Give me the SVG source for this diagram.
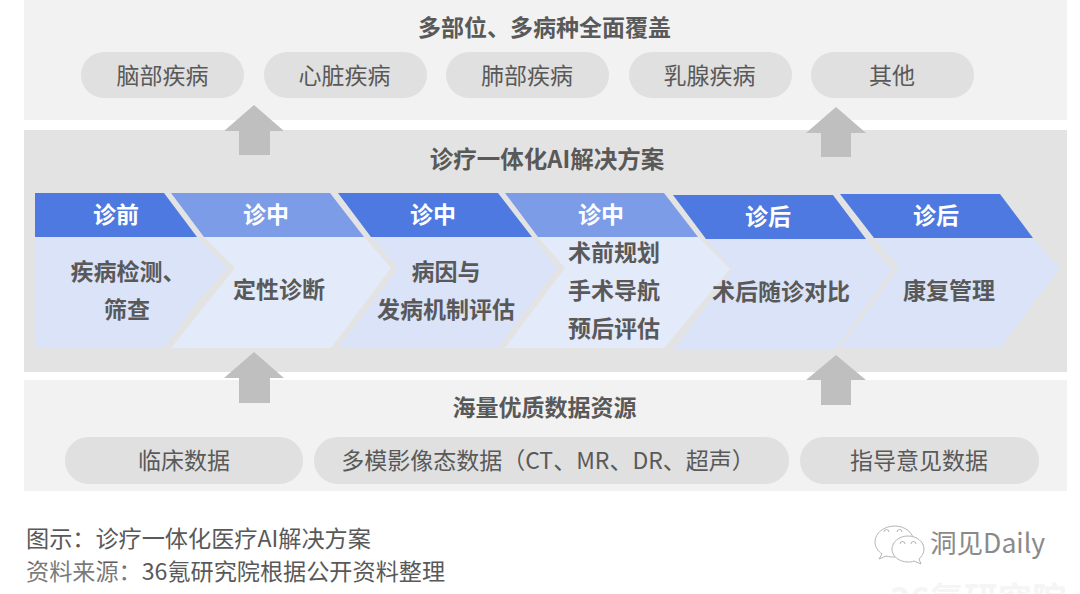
<svg xmlns="http://www.w3.org/2000/svg" width="1080" height="594" viewBox="0 0 1080 594">
<style>
text{font-family:"Noto Sans CJK SC","Noto Sans",sans-serif;text-anchor:middle}
.panel-l{fill:#f2f2f2}
.panel-m{fill:#e3e3e3}
.pill{fill:#e0e0e0}
.pt{font-size:23px;fill:#595959}
.h{font-size:23px;font-weight:700;fill:#595959}
.hd{font-size:23px;font-weight:700;fill:#fff}
.dk{fill:#4e79e0}
.lt{fill:#7c9ce8}
.b1{fill:#dae3f8}
.b2{fill:#e3eafa}
.ar{fill:#bfbfbf}
.cap{font-size:23.15px;fill:#595959;text-anchor:start}
</style>
<rect width="1080" height="594" fill="#fff"/>
<g id="panels">
<rect class="panel-l" x="24" y="0" width="1043" height="120"/>
<rect class="panel-m" x="24" y="130" width="1043" height="242"/>
<rect class="panel-l" x="24" y="380" width="1043" height="111"/>
</g>
<g id="connectors">
<polygon class="ar" points="254,105 284,131 270,131 270,155 239,155 239,131 224,131"/>
<polygon class="ar" points="836,107 866,133 851,133 851,157 821,157 821,133 806,133"/>
<polygon class="ar" points="254,352 284,378 270,378 270,403 239,403 239,378 224,378"/>
<polygon class="ar" points="836,355 866,380 851,380 851,405 821,405 821,380 806,380"/>
</g>
<text class="h" x="544.500" y="36">多部位、多病种全面覆盖</text>
<g id="top-1"><rect class="pill" x="81" y="52" width="163" height="46" rx="23"/><text class="pt" x="162.500" y="84">脑部疾病</text></g>
<g id="top-2"><rect class="pill" x="264" y="52" width="163" height="46" rx="23"/><text class="pt" x="344.500" y="84">心脏疾病</text></g>
<g id="top-3"><rect class="pill" x="446" y="52" width="163" height="46" rx="23"/><text class="pt" x="527" y="84">肺部疾病</text></g>
<g id="top-4"><rect class="pill" x="629" y="52" width="163" height="46" rx="23"/><text class="pt" x="709.500" y="84">乳腺疾病</text></g>
<g id="top-5"><rect class="pill" x="811" y="52" width="163" height="46" rx="23"/><text class="pt" x="892" y="84">其他</text></g>
<text class="h" x="547" y="168" style="font-size:23.5px">诊疗一体化AI解决方案</text>
<g id="step-1">
<polygon class="b1" points="35,237 197,237 228,268 197,302 164,348 35,348"/>
<polygon class="dk" points="35,193 164,193 197,237 35,237"/>
<text class="hd" x="116" y="223">诊前</text>
<text class="h" x="128" y="280">疾病检测、</text><text class="h" x="127" y="318">筛查</text>
</g>
<g id="step-2">
<polygon class="b2" points="204,237 364,237 391,268 331,348 171,348 235,268"/>
<polygon class="lt" points="171,193 330,193 364,237 204,237"/>
<text class="hd" x="266" y="223">诊中</text>
<text class="h" x="279" y="298">定性诊断</text>
</g>
<g id="step-3">
<polygon class="b1" points="371,237 532,237 558,268 498,348 338,348 398,268"/>
<polygon class="dk" points="338,193 498,193 532,237 371,237"/>
<text class="hd" x="433" y="223">诊中</text>
<text class="h" x="446" y="280">病因与</text><text class="h" x="446" y="318">发病机制评估</text>
</g>
<g id="step-4">
<polygon class="b2" points="538,237 698,237 730,269 664,348 505,348 565,268"/>
<polygon class="lt" points="505,193 664,193 698,237 538,237"/>
<text class="hd" x="601" y="223">诊中</text>
<text class="h" x="614" y="261">术前规划</text><text class="h" x="614" y="299">手术导航</text><text class="h" x="614" y="337">预后评估</text>
</g>
<g id="step-5">
<polygon class="b1" points="706,239 866,239 892,270 835,350 673,350 733,270"/>
<polygon class="dk" points="673,195 833,195 866,239 706,239"/>
<text class="hd" x="768" y="225">诊后</text>
<text class="h" x="781" y="300">术后随诊对比</text>
</g>
<g id="step-6">
<polygon class="b1" points="874,238 1033,238 1060,268 1000,348 840,348 899,268"/>
<polygon class="dk" points="840,194 1000,194 1033,238 874,238"/>
<text class="hd" x="936" y="224">诊后</text>
<text class="h" x="949" y="299">康复管理</text>
</g>
<text class="h" x="544.500" y="416">海量优质数据资源</text>
<g id="bottom-1"><rect class="pill" x="65" y="437" width="238" height="47" rx="23.5"/><text class="pt" x="184" y="469">临床数据</text></g>
<g id="bottom-2"><rect class="pill" x="314" y="437" width="475" height="47" rx="23.5"/><text class="pt" x="548" y="469">多模影像态数据（CT、MR、DR、超声）</text></g>
<g id="bottom-3"><rect class="pill" x="800" y="437" width="239" height="47" rx="23.5"/><text class="pt" x="919" y="469">指导意见数据</text></g>
<text class="cap" x="26" y="547">图示：诊疗一体化医疗AI解决方案</text>
<text class="cap" x="26" y="580">资料来源：36氪研究院根据公开资料整理</text>
<g id="watermark">
<ellipse cx="70" cy="574" rx="66" ry="13" fill="#fff" opacity=".2"/>
<g fill="#fff" stroke="#b5b5b5" stroke-width="1">
<path d="M895 526c-11 0-20 7-20 16 0 5 3 9 7 12l-3 5 7-3c3 1 6 1 9 1 11 0 19-7 19-15s-8-16-19-16z"/>
<path d="M908 536c-9 0-16 6-16 13s7 13 16 13c2 0 4 0 6-1l7 3-2-5c3-3 5-6 5-10 0-7-7-13-16-13z"/>
<path fill="none" d="M884 532a2.500 2.500 0 0 1 5 0M897 532a2.500 2.500 0 0 1 5 0M900 544a2.500 2.500 0 0 1 5 0M911 544a2.500 2.500 0 0 1 5 0"/>
</g>
<text x="987.500" y="553" font-size="26.600" fill="#8a8a8a">洞见Daily</text>
<text x="978" y="612" font-size="34" font-weight="700" fill="#f5f5f5">36氪研究院</text>
</g>
</svg>
